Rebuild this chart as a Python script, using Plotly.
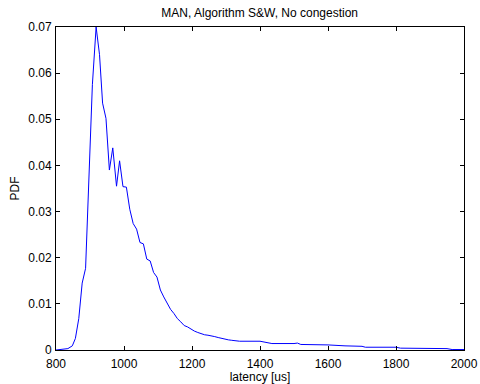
import plotly.graph_objects as go

latency = [800, 820, 835, 848, 857, 867, 877, 887, 897, 907, 918, 928, 937, 947, 957,
           967, 978, 987, 997, 1007, 1017, 1027, 1037, 1047, 1057, 1067, 1077, 1087,
           1097, 1107, 1117, 1127, 1137, 1147, 1157, 1167, 1177, 1187, 1197, 1207,
           1217, 1227, 1237, 1247, 1257, 1267, 1277, 1287, 1297, 1307, 1317, 1327,
           1340, 1400, 1420, 1435, 1500, 1510, 1520, 1560, 1587, 1600, 1650, 1700,
           1710, 1800, 1813, 1950, 1965, 2000]
pdf = [0.0, 0.0001, 0.0003, 0.0009, 0.0025, 0.0068, 0.0145, 0.0177, 0.036, 0.0575,
       0.0700, 0.0640, 0.0535, 0.0502, 0.0390, 0.0438, 0.0355, 0.0410, 0.0354, 0.0353,
       0.0305, 0.0274, 0.0262, 0.0233, 0.0230, 0.0197, 0.0193, 0.0168, 0.0158, 0.0130,
       0.0115, 0.0100, 0.0088, 0.0079, 0.0068, 0.0061, 0.0053, 0.0050, 0.0045, 0.0041,
       0.0038, 0.0035, 0.0033, 0.0032, 0.0031, 0.0029, 0.0027, 0.0025, 0.0024, 0.0022,
       0.0021, 0.0020, 0.0019, 0.0019, 0.0016, 0.0014, 0.0014, 0.0015, 0.0012, 0.0012,
       0.0011, 0.0011, 0.0009, 0.0008, 0.0006, 0.0006, 0.0004, 0.0003, 0.0001, 0.0001]

x_ticks = [800, 1000, 1200, 1400, 1600, 1800, 2000]
y_ticks = [0, 0.01, 0.02, 0.03, 0.04, 0.05, 0.06, 0.07]
y_tick_text = ["0", "0.01", "0.02", "0.03", "0.04", "0.05", "0.06", "0.07"]

fig = go.Figure()
fig.add_trace(go.Scatter(x=latency, y=pdf, mode="lines",
                         line=dict(color="#0000ff", width=1)))

font = dict(family="Liberation Sans, Arial, sans-serif", size=12, color="black")
axis_common = dict(showgrid=False, zeroline=False, showline=True, linecolor="black",
                   linewidth=1, mirror="ticks", ticks="inside", ticklen=4,
                   tickcolor="black", tickfont=font, automargin=False)

fig.update_layout(
    width=480, height=384,
    margin=dict(l=56, r=16, t=27, b=34),
    paper_bgcolor="white", plot_bgcolor="white",
    showlegend=False,
    font=font,
    title=dict(text="MAN, Algorithm S&W, No congestion", x=0.541, xanchor="center",
               y=1 - 13 / 384, yanchor="middle", yref="container",
               font=font, automargin=False),
    xaxis=dict(range=[800, 2000], tickvals=x_ticks, ticklabelstandoff=3,
               title=dict(text="latency [us]", standoff=1, font=font), **axis_common),
    yaxis=dict(range=[0, 0.07], tickvals=y_ticks, ticktext=y_tick_text,
               ticklabelstandoff=1,
               title=dict(text="PDF", standoff=6, font=font), **axis_common),
)

fig.write_html("out.html")
